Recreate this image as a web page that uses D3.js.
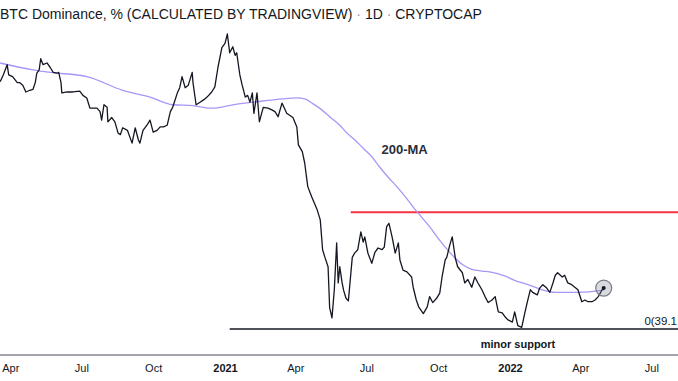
<!DOCTYPE html>
<html>
<head>
<meta charset="utf-8">
<script src="https://cdn.jsdelivr.net/npm/d3@7"></script>
<style>
  html, body { margin: 0; padding: 0; background: #ffffff; }
  svg { display: block; }
</style>
</head>
<body>
<svg id="chart" width="678" height="381"></svg>
<script>
// ---------------- DATA ----------------
const titleMain = "BTC Dominance, % (CALCULATED BY TRADINGVIEW)";
const titleInterval = "1D";
const titleExchange = "CRYPTOCAP";

// BTC dominance (%) – daily close, sampled
const priceSeries = [
  ["2020-03-19",68.1],["2020-03-23",68.9],["2020-03-28",70.1],["2020-03-30",68.9],
  ["2020-04-04",68.7],["2020-04-10",68.0],["2020-04-13",68.0],["2020-04-17",67.7],
  ["2020-04-21",66.9],["2020-04-26",67.1],["2020-04-30",67.2],["2020-05-03",68.0],
  ["2020-05-05",69.1],["2020-05-08",69.5],["2020-05-10",70.8],["2020-05-13",70.1],
  ["2020-05-18",70.3],["2020-05-22",69.8],["2020-05-26",69.2],["2020-05-31",69.1],
  ["2020-06-02",69.2],["2020-06-05",68.0],["2020-06-06",66.8],["2020-06-13",66.9],
  ["2020-06-20",66.9],["2020-06-29",67.0],["2020-07-03",66.5],["2020-07-08",66.2],
  ["2020-07-12",65.0],["2020-07-21",65.0],["2020-07-25",64.6],["2020-07-27",63.6],
  ["2020-07-30",65.4],["2020-08-03",65.1],["2020-08-04",63.4],["2020-08-09",63.9],
  ["2020-08-13",63.4],["2020-08-17",62.1],["2020-08-20",61.9],["2020-08-23",62.7],
  ["2020-08-29",62.4],["2020-09-04",60.9],["2020-09-08",62.7],["2020-09-12",61.3],
  ["2020-09-14",60.9],["2020-09-18",62.4],["2020-09-23",63.0],["2020-09-27",63.6],
  ["2020-10-01",62.2],["2020-10-06",62.4],["2020-10-10",62.8],["2020-10-14",62.8],
  ["2020-10-19",63.0],["2020-10-23",64.6],["2020-10-26",65.1],["2020-11-01",66.8],
  ["2020-11-04",67.4],["2020-11-07",68.7],["2020-11-11",67.4],["2020-11-15",67.7],
  ["2020-11-20",69.2],["2020-11-21",68.0],["2020-11-25",65.4],["2020-11-30",65.7],
  ["2020-12-05",66.0],["2020-12-09",66.3],["2020-12-15",66.9],["2020-12-19",67.5],
  ["2020-12-23",69.8],["2020-12-28",72.1],["2021-01-01",72.6],["2021-01-04",73.7],
  ["2021-01-07",71.5],["2021-01-11",72.2],["2021-01-14",71.2],["2021-01-16",71.5],
  ["2021-01-20",68.9],["2021-01-23",67.7],["2021-01-27",66.3],["2021-01-30",66.5],
  ["2021-02-02",65.7],["2021-02-05",66.8],["2021-02-07",64.4],["2021-02-11",66.8],
  ["2021-02-14",63.4],["2021-02-19",65.1],["2021-02-25",65.0],["2021-03-02",64.8],
  ["2021-03-06",64.6],["2021-03-10",64.0],["2021-03-15",65.6],["2021-03-21",64.4],
  ["2021-03-29",63.9],["2021-04-03",62.8],["2021-04-05",60.7],["2021-04-10",59.9],
  ["2021-04-13",58.6],["2021-04-17",55.8],["2021-04-22",54.6],["2021-04-29",53.1],
  ["2021-05-03",51.9],["2021-05-06",48.4],["2021-05-09",47.5],["2021-05-13",46.4],
  ["2021-05-15",41.6],["2021-05-18",40.4],["2021-05-21",43.7],["2021-05-24",49.2],
  ["2021-05-26",44.5],["2021-05-28",46.4],["2021-05-31",44.5],["2021-06-02",43.6],
  ["2021-06-05",42.7],["2021-06-08",42.4],["2021-06-13",47.5],["2021-06-16",48.0],
  ["2021-06-20",48.4],["2021-06-24",50.5],["2021-06-27",49.3],["2021-06-29",49.9],
  ["2021-07-03",48.0],["2021-07-08",46.8],["2021-07-12",48.1],["2021-07-16",48.6],
  ["2021-07-21",48.4],["2021-07-24",48.7],["2021-07-27",51.1],["2021-07-30",51.5],
  ["2021-08-03",49.9],["2021-08-07",48.0],["2021-08-11",49.2],["2021-08-13",47.2],
  ["2021-08-17",46.0],["2021-08-22",45.8],["2021-08-28",45.2],["2021-08-30",44.0],
  ["2021-09-03",42.5],["2021-09-06",41.7],["2021-09-12",40.9],["2021-09-17",41.7],
  ["2021-09-20",42.9],["2021-09-24",42.2],["2021-09-29",42.7],["2021-10-03",43.3],
  ["2021-10-06",45.2],["2021-10-10",47.2],["2021-10-12",47.5],["2021-10-16",49.0],
  ["2021-10-19",49.9],["2021-10-23",47.4],["2021-10-26",46.4],["2021-11-01",45.7],
  ["2021-11-04",44.5],["2021-11-08",44.9],["2021-11-13",44.0],["2021-11-17",45.2],
  ["2021-11-21",44.5],["2021-11-26",43.7],["2021-11-30",42.9],["2021-12-04",42.2],
  ["2021-12-09",42.5],["2021-12-13",42.9],["2021-12-17",41.1],["2021-12-22",41.0],
  ["2021-12-26",40.5],["2021-12-29",40.2],["2022-01-04",39.9],["2022-01-07",41.1],
  ["2022-01-11",39.5],["2022-01-16",39.3],["2022-01-20",41.0],["2022-01-23",42.2],
  ["2022-01-27",43.7],["2022-01-30",43.4],["2022-02-05",43.1],["2022-02-08",43.9],
  ["2022-02-12",44.3],["2022-02-17",43.9],["2022-02-21",43.4],["2022-02-25",44.5],
  ["2022-02-28",45.4],["2022-03-03",45.7],["2022-03-09",45.2],["2022-03-12",45.4],
  ["2022-03-16",44.5],["2022-03-21",44.3],["2022-03-25",44.0],["2022-03-29",43.7],
  ["2022-04-03",42.3],["2022-04-07",42.5],["2022-04-11",42.3],["2022-04-16",42.3],
  ["2022-04-20",42.5],["2022-04-24",42.9],["2022-04-29",43.7],["2022-05-01",43.9]
];

// 200-day moving average (%)
const ma200Series = [
  ["2020-03-19",70.3],["2020-04-30",69.5],["2020-05-22",69.2],["2020-07-08",68.7],
  ["2020-08-23",67.1],["2020-09-27",66.3],["2020-10-26",65.4],["2020-11-21",65.3],
  ["2020-12-13",65.0],["2020-12-26",65.1],["2021-01-11",65.4],["2021-02-06",65.7],
  ["2021-03-16",66.1],["2021-04-03",66.2],["2021-04-13",66.1],["2021-04-24",65.5],
  ["2021-05-05",64.8],["2021-05-15",64.0],["2021-05-28",63.0],["2021-06-06",62.1],
  ["2021-06-16",61.3],["2021-06-27",60.3],["2021-07-08",59.3],["2021-07-18",58.1],
  ["2021-07-29",56.9],["2021-08-09",55.8],["2021-08-20",54.6],["2021-08-30",53.4],
  ["2021-09-10",52.2],["2021-09-20",51.1],["2021-10-03",49.5],["2021-10-12",48.5],
  ["2021-10-23",47.4],["2021-11-02",46.6],["2021-11-13",46.1],["2021-11-26",45.9],
  ["2021-12-06",45.8],["2021-12-26",45.3],["2022-01-07",44.8],["2022-01-24",44.3],
  ["2022-02-08",43.8],["2022-02-28",43.4],["2022-03-29",43.4],["2022-04-26",43.6],
  ["2022-05-01",43.7]
];

// Horizontal levels
const resistanceLevel = { start: "2021-06-11", value: 52.8 };
const supportLevel = { start: "2021-01-07", value: 39.1, label: "0(39.1", name: "minor support" };
const maLabel = { date: "2021-08-19", value: 59.6, text: "200-MA" };

// Axis tick labels
const tickDates = ["2020-04-01","2020-07-01","2020-10-01","2021-01-01","2021-04-01",
                   "2021-07-01","2021-10-01","2022-01-01","2022-04-01","2022-07-01"];
const tickLabels = ["Apr","Jul","Oct","2021","Apr","Jul","Oct","2022","Apr","Jul"];

// ---------------- CHART ----------------
const W = 678, H = 381;
const parse = d3.utcParse("%Y-%m-%d");
const svg = d3.select("#chart");

const x = d3.scaleUtc()
  .domain([parse("2021-01-01"), parse("2022-01-01")])
  .range([225, 510]);

const y = d3.scaleLinear().domain([39.1, 73.7]).range([329, 34]);

const font = "'Liberation Sans', Arial, sans-serif";

// Title
const title = svg.append("text")
  .attr("x", 0).attr("y", 19)
  .attr("font-family", font).attr("font-size", 14)
  .attr("fill", "#131722");
title.append("tspan").text(titleMain + " ");
title.append("tspan").attr("fill", "#9598a1").text("· ");
title.append("tspan").text(titleInterval + " ");
title.append("tspan").attr("fill", "#9598a1").text("· ");
title.append("tspan").text(titleExchange);

// Support line
svg.append("line")
  .attr("x1", x(parse(supportLevel.start))).attr("x2", W)
  .attr("y1", y(supportLevel.value)).attr("y2", y(supportLevel.value))
  .attr("stroke", "#131722").attr("stroke-width", 1.3);
svg.append("text")
  .attr("x", 677).attr("y", y(supportLevel.value) - 4)
  .attr("text-anchor", "end")
  .attr("font-family", font).attr("font-size", 11.5)
  .attr("fill", "#131722").text(supportLevel.label);

// Resistance line
svg.append("line")
  .attr("x1", x(parse(resistanceLevel.start))).attr("x2", W)
  .attr("y1", y(resistanceLevel.value)).attr("y2", y(resistanceLevel.value))
  .attr("stroke", "#f23645").attr("stroke-width", 2);

// MA line
svg.append("path")
  .datum(ma200Series)
  .attr("fill", "none")
  .attr("stroke", "#a995f7")
  .attr("stroke-width", 1.3)
  .attr("d", d3.line().x(d => x(parse(d[0]))).y(d => y(d[1])).curve(d3.curveMonotoneX));

// Price line
svg.append("path")
  .datum(priceSeries)
  .attr("fill", "none")
  .attr("stroke", "#131722")
  .attr("stroke-width", 1.3)
  .attr("stroke-linejoin", "round")
  .attr("d", d3.line().x(d => x(parse(d[0]))).y(d => y(d[1])));

// Last point marker
const last = priceSeries[priceSeries.length - 1];
svg.append("circle")
  .attr("cx", x(parse(last[0]))).attr("cy", y(last[1])).attr("r", 8)
  .attr("fill", "rgba(120,123,134,0.28)").attr("stroke", "#787b86").attr("stroke-width", 1.2);
svg.append("circle")
  .attr("cx", x(parse(last[0]))).attr("cy", y(last[1])).attr("r", 2)
  .attr("fill", "#131722");

// Annotations
svg.append("text")
  .attr("x", x(parse(maLabel.date))).attr("y", y(maLabel.value))
  .attr("text-anchor", "middle")
  .attr("font-family", font).attr("font-size", 13).attr("font-weight", "bold")
  .attr("fill", "#2a2e39").text(maLabel.text);

svg.append("text")
  .attr("x", 518).attr("y", 348)
  .attr("text-anchor", "middle")
  .attr("font-family", font).attr("font-size", 11).attr("font-weight", "bold")
  .attr("fill", "#131722").text(supportLevel.name);

// X axis
const axis = d3.axisBottom(x)
  .tickValues(tickDates.map(parse))
  .tickSize(0).tickSizeOuter(0)
  .tickFormat((d, i) => tickLabels[i]);
const gx = svg.append("g").attr("transform", "translate(0,355)").call(axis);
gx.select(".domain").remove();
gx.append("line").attr("x1", 0).attr("x2", W).attr("y1", 0).attr("y2", 0)
  .attr("stroke", "#a3a6af").attr("stroke-width", 2);
gx.selectAll(".tick text")
  .attr("dy", 0).attr("y", 17)
  .attr("font-family", font).attr("font-size", 11)
  .attr("fill", "#131722")
  .attr("font-weight", (d, i) => /^\d{4}$/.test(tickLabels[i]) ? "bold" : "normal");
</script>
</body>
</html>
